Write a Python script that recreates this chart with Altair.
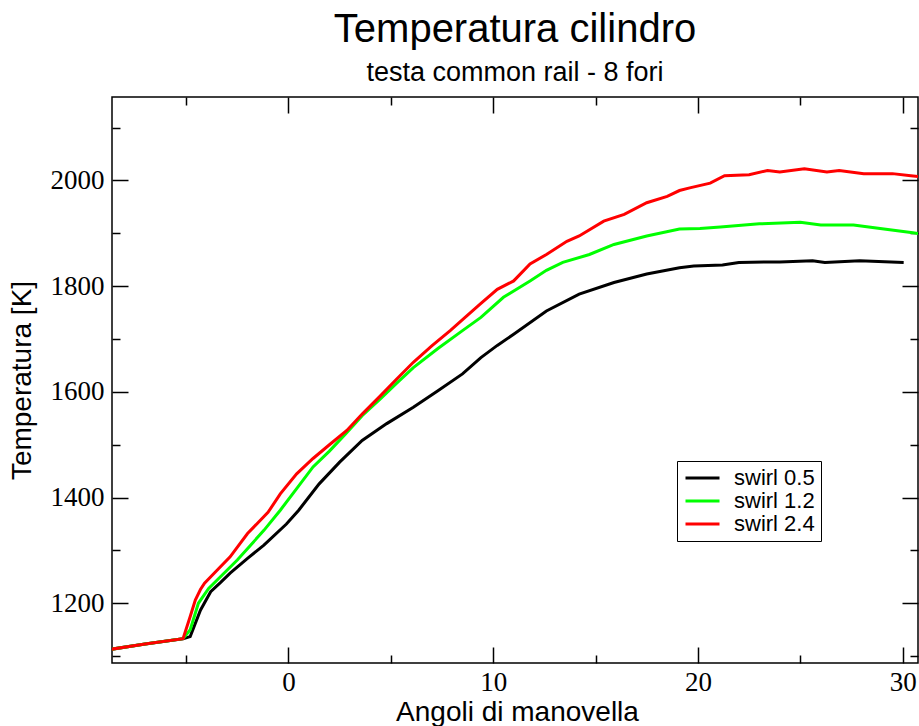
import altair as alt
import pandas as pd

# ---- data ----
series_names = ["swirl 0.5", "swirl 1.2", "swirl 2.4"]
series_colors = ["#000000", "#00ff00", "#ff0000"]

black_x = [-9.0, -7.0, -5.15, -4.8, -4.3, -3.8, -3.3, -2.85, -2.0, -1.2, -0.1, 0.5, 1.5, 2.5,
           3.6, 4.8, 6.1, 7.3, 8.5, 9.4, 10.2, 11.0, 12.6, 14.2, 15.9, 17.5, 19.1, 19.8, 21.2,
           22.0, 24.0, 25.6, 26.2, 27.9, 30.05]
black_t = [1111, 1123, 1133, 1137, 1187, 1222, 1240, 1257, 1285, 1310, 1350, 1376, 1426, 1467,
           1508, 1540, 1571, 1602, 1634, 1665, 1688, 1709, 1753, 1785, 1807, 1823, 1835, 1838, 1840,
           1845, 1846, 1848, 1845, 1848, 1845]

green_x = [-9.0, -7.0, -5.15, -4.8, -4.4, -3.9, -3.2, -2.5, -1.2, -0.4, 0.4, 1.2, 2.0, 2.8,
           3.6, 4.5, 5.3, 6.1, 7.3, 8.5, 9.4, 10.5, 11.8, 12.6, 13.4, 14.7, 15.9, 17.5, 19.1,
           20.1, 21.1, 23.0, 25.0, 26.0, 27.6, 28.9, 30.5, 30.9]
green_t = [1111, 1123, 1133, 1150, 1200, 1228, 1255, 1282, 1338, 1376, 1417, 1458, 1488, 1521,
           1555, 1587, 1617, 1646, 1682, 1716, 1741, 1779, 1810, 1830, 1845, 1860, 1879, 1895, 1908,
           1909, 1912, 1918, 1921, 1916, 1916, 1909, 1901, 1899]

red_x = [-9.0, -7.0, -5.15, -4.8, -4.55, -4.3, -4.1, -3.5, -2.85, -2.0, -1.0, -0.4, 0.4, 1.2,
         2.0, 2.85, 3.6, 4.5, 5.3, 6.1, 7.0, 7.9, 8.6, 9.36, 10.2, 11.0, 11.8, 12.6, 13.6, 14.2,
         15.4, 16.4, 17.5, 18.5, 19.1, 19.6, 20.6, 21.3, 22.5, 23.4, 24.0, 25.2, 26.3, 26.9,
         28.1, 29.5, 30.4, 30.9]
red_t = [1111, 1123, 1133, 1175, 1206, 1226, 1238, 1262, 1288, 1332, 1372, 1407, 1445, 1474,
         1500, 1527, 1558, 1593, 1625, 1656, 1687, 1716, 1740, 1766, 1794, 1810, 1842, 1860, 1885, 1895,
         1923, 1936, 1958, 1970, 1981, 1986, 1995, 2009, 2011, 2019, 2016, 2022, 2016, 2019,
         2013, 2013, 2009, 2007]

x_major = [0, 10, 20, 30]
x_minor = [-5, 5, 15, 25]
y_major = [1200, 1400, 1600, 1800, 2000]
y_minor = [1100, 1300, 1500, 1700, 1900, 2100]
x_domain = [-8.62, 30.75]
y_domain = [1087, 2158]

rows = []
for name, xs_, ts_ in zip(series_names, [black_x, green_x, red_x], [black_t, green_t, red_t]):
    for i, (a, b) in enumerate(zip(xs_, ts_)):
        rows.append({"series": name, "angle": a, "temp": b, "idx": i})
df = pd.DataFrame(rows)

xscale = alt.Scale(domain=x_domain, nice=False, zero=False)
yscale = alt.Scale(domain=y_domain, nice=False, zero=False)

lines = alt.Chart(df).mark_line(strokeWidth=3, clip=True).encode(
    x=alt.X("angle:Q", scale=xscale, axis=alt.Axis(
        values=x_major, ticks=False, tickSize=0, domain=False, grid=False, format="d",
        labelFont="Liberation Serif", labelFontSize=27, labelPadding=6, labelColor="black",
        title="Angoli di manovella", titleFont="Liberation Sans", titleFontSize=28,
        titleFontWeight="normal", titleColor="black", titleBaseline="alphabetic",
        titleY=57, titleX=405)),
    y=alt.Y("temp:Q", scale=yscale, axis=alt.Axis(
        values=y_major, ticks=False, tickSize=0, domain=False, grid=False, format="d",
        labelFont="Liberation Serif", labelFontSize=27, labelPadding=8, labelColor="black",
        title="Temperatura [K]", titleFont="Liberation Sans", titleFontSize=28,
        titleFontWeight="normal", titleColor="black", titleX=-76, titleY=283)),
    color=alt.Color("series:N", scale=alt.Scale(domain=series_names, range=series_colors),
                    legend=alt.Legend(orient="none", legendX=565, legendY=364, title=None,
                                      strokeColor="black", fillColor="white", padding=6,
                                      symbolType="M-1,0H3", symbolSize=289, symbolStrokeWidth=3,
                                      labelFont="Liberation Sans", labelFontSize=22,
                                      labelOffset=29, rowPadding=1, labelColor="black")),
    order="idx:Q",
)


def tick_layer(xvals, yvals, xorient, yorient, size):
    return alt.Chart(df).mark_point(opacity=0, clip=True).encode(
        x=alt.X("angle:Q", scale=xscale, axis=alt.Axis(
            orient=xorient, values=xvals, labels=False, domain=False, grid=False,
            ticks=True, tickSize=alt.ExprRef(expr=str(-size)), tickColor="black",
            tickWidth=1.5, title=None)),
        y=alt.Y("temp:Q", scale=yscale, axis=alt.Axis(
            orient=yorient, values=yvals, labels=False, domain=False, grid=False,
            ticks=True, tickSize=alt.ExprRef(expr=str(-size)), tickColor="black",
            tickWidth=1.5, title=None)),
    )


chart = alt.layer(
    lines,
    tick_layer(x_major, y_major, "bottom", "left", 16),
    tick_layer(x_minor, y_minor, "bottom", "left", 8),
    tick_layer(x_major, y_major, "top", "right", 16),
    tick_layer(x_minor, y_minor, "top", "right", 8),
).resolve_axis(x="independent", y="independent").properties(
    width=806, height=566,
    autosize="none",
    padding={"left": 112, "top": 97, "right": 1, "bottom": 63},
    title=alt.Title("Temperatura cilindro", subtitle="testa common rail - 8 fori",
                    font="Liberation Sans", fontSize=40, fontWeight="normal", color="black",
                    subtitleFont="Liberation Sans", subtitleFontSize=27, subtitleColor="black",
                    anchor="middle", offset=10, subtitlePadding=10),
).configure_view(stroke="black", strokeWidth=1.5)

chart.save("out.html", embed_options={"renderer": "svg", "actions": False})
